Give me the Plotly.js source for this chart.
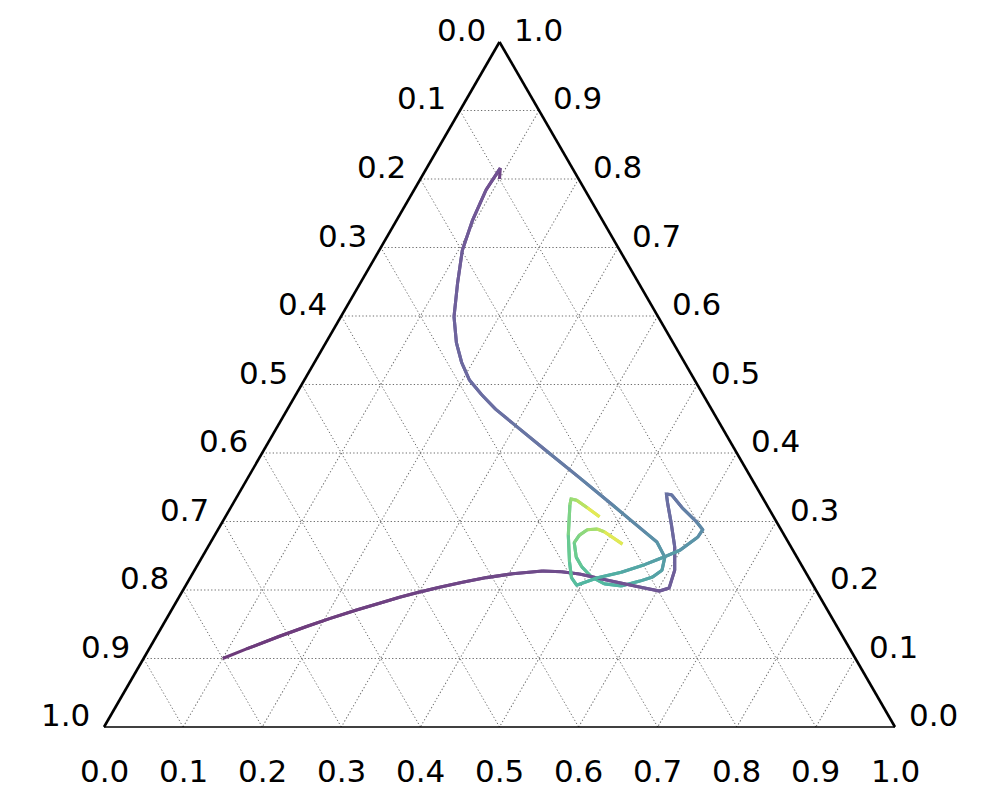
<!DOCTYPE html>
<html>
<head>
<meta charset="utf-8">
<script src="https://cdn.plot.ly/plotly-3.0.1.min.js"></script>
<style>
html,body{margin:0;padding:0;background:#fff;}
#chart{width:1000px;height:800px;}
</style>
</head>
<body>
<div id="chart"></div>
<script>
// Tick values (0..1) and the label printed at each of them
const tickValues = [0, 0.1, 0.2, 0.3, 0.4, 0.5, 0.6, 0.7, 0.8, 0.9, 1.0];
const tickLabels = ['0.0', '0.1', '0.2', '0.3', '0.4', '0.5', '0.6', '0.7', '0.8', '0.9', '1.0'];

// Trajectory 1 (starts near the bottom-left) : a = top, b = bottom-left, c = bottom-right
const traj1A = [0.1000, 0.1140, 0.1324, 0.1467, 0.1582, 0.1709, 0.1806, 0.1893, 0.1969, 0.2041, 0.2114, 0.2181, 0.2238, 0.2277, 0.2266, 0.2234, 0.2146, 0.2044, 0.1985, 0.203, 0.229, 0.263, 0.298, 0.327, 0.340, 0.339, 0.320, 0.299, 0.288, 0.277, 0.258, 0.247, 0.237, 0.226, 0.218, 0.207, 0.218, 0.241, 0.280, 0.324, 0.333, 0.331, 0.320, 0.307];
const traj1B = [0.8000, 0.7628, 0.7119, 0.6706, 0.6358, 0.5953, 0.5614, 0.5317, 0.5027, 0.4738, 0.4411, 0.4074, 0.3716, 0.3318, 0.3083, 0.2872, 0.2574, 0.2208, 0.1985, 0.184, 0.164, 0.147, 0.134, 0.124, 0.119, 0.113, 0.109, 0.101, 0.099, 0.111, 0.143, 0.171, 0.198, 0.233, 0.267, 0.299, 0.300, 0.291, 0.273, 0.249, 0.243, 0.237, 0.229, 0.220];
const traj1C = [0.1000, 0.1232, 0.1557, 0.1827, 0.2060, 0.2338, 0.2580, 0.2790, 0.3004, 0.3221, 0.3475, 0.3745, 0.4046, 0.4405, 0.4651, 0.4894, 0.5280, 0.5748, 0.6030, 0.613, 0.607, 0.590, 0.568, 0.549, 0.541, 0.548, 0.571, 0.600, 0.613, 0.612, 0.599, 0.582, 0.565, 0.541, 0.515, 0.494, 0.482, 0.468, 0.447, 0.427, 0.424, 0.432, 0.451, 0.473];
const traj1T = [0.00, 0.005, 0.01, 0.015, 0.02, 0.025, 0.03, 0.035, 0.04, 0.045, 0.05, 0.055, 0.06, 0.07, 0.075, 0.08, 0.09, 0.10, 0.12, 0.13, 0.15, 0.17, 0.19, 0.21, 0.22, 0.23, 0.27, 0.32, 0.35, 0.37, 0.41, 0.44, 0.47, 0.51, 0.55, 0.60, 0.63, 0.66, 0.71, 0.77, 0.80, 0.83, 0.90, 1.00];

// Trajectory 2 (starts near the top)
const traj2A = [0.800, 0.816, 0.784, 0.740, 0.696, 0.648, 0.599, 0.561, 0.533, 0.507, 0.485, 0.464, 0.444, 0.403, 0.364, 0.324, 0.283, 0.270, 0.248, 0.229, 0.219, 0.213, 0.206, 0.209, 0.219, 0.234, 0.248, 0.269, 0.280, 0.288, 0.289, 0.285, 0.267];
const traj2B = [0.100, 0.091, 0.125, 0.164, 0.199, 0.229, 0.258, 0.274, 0.282, 0.285, 0.280, 0.273, 0.262, 0.239, 0.217, 0.195, 0.173, 0.166, 0.167, 0.180, 0.197, 0.216, 0.243, 0.263, 0.274, 0.279, 0.279, 0.271, 0.259, 0.245, 0.232, 0.225, 0.211];
const traj2C = [0.100, 0.093, 0.091, 0.096, 0.105, 0.123, 0.143, 0.165, 0.186, 0.209, 0.235, 0.263, 0.295, 0.358, 0.419, 0.481, 0.544, 0.564, 0.585, 0.591, 0.584, 0.571, 0.551, 0.528, 0.507, 0.487, 0.473, 0.460, 0.461, 0.467, 0.479, 0.490, 0.522];
const traj2T = [0.00, 0.08, 0.10, 0.12, 0.13, 0.14, 0.15, 0.17, 0.18, 0.19, 0.20, 0.21, 0.22, 0.25, 0.28, 0.32, 0.36, 0.38, 0.42, 0.45, 0.48, 0.50, 0.54, 0.58, 0.61, 0.65, 0.68, 0.72, 0.76, 0.80, 0.85, 0.89, 1.00];

// Viridis colormap stops
const viridisStops = [
  [68, 1, 84], [72, 36, 117], [65, 68, 135], [53, 95, 141], [42, 120, 142],
  [33, 145, 140], [34, 168, 132], [68, 191, 112], [122, 209, 81], [189, 223, 38], [253, 231, 37]
];
const lineAlpha = 0.78;

function viridis(t) {
  t = Math.max(0, Math.min(1, t));
  const p = t * (viridisStops.length - 1);
  const i = Math.min(Math.floor(p), viridisStops.length - 2);
  const f = p - i;
  const c0 = viridisStops[i], c1 = viridisStops[i + 1];
  const rgb = [0, 1, 2].map(k => c0[k] + (c1[k] - c0[k]) * f);
  const out = rgb.map(v => Math.round(v * lineAlpha + 255 * (1 - lineAlpha)));
  return 'rgb(' + out.join(',') + ')';
}

// One short trace per segment so that the colour can follow the trajectory;
// each trace also carries the next point so consecutive segments join without gaps.
function segmentTraces(A, B, C, T) {
  const traces = [];
  for (let i = 0; i < A.length - 1; i++) {
    const end = Math.min(i + 3, A.length);
    traces.push({
      type: 'scatterternary',
      mode: 'lines',
      a: A.slice(i, end),
      b: B.slice(i, end),
      c: C.slice(i, end),
      line: {color: viridis((T[i] + T[i + 1]) / 2), width: 3.1},
      hoverinfo: 'skip',
      showlegend: false
    });
  }
  return traces;
}

const data = [].concat(
  segmentTraces(traj2A, traj2B, traj2C, traj2T),
  segmentTraces(traj1A, traj1B, traj1C, traj1T)
);

// Tick labels: placed next to each tick's edge point (ternary fills the plot area exactly)
const labelFont = {family: 'DejaVu Sans, sans-serif', size: 31, color: '#000'};
const annotations = [];
tickValues.forEach((t, i) => {
  // left edge: bottom-left component (0 at top, 1 at bottom-left)
  annotations.push({xref: 'paper', yref: 'paper', x: 0.5 - t / 2, y: 1 - t,
    text: tickLabels[i], showarrow: false, xanchor: 'right', yanchor: 'middle',
    xshift: -12, yshift: 12, font: labelFont});
  // right edge: top component (1 at top, 0 at bottom-right)
  annotations.push({xref: 'paper', yref: 'paper', x: 0.5 + (1 - t) / 2, y: t,
    text: tickLabels[i], showarrow: false, xanchor: 'left', yanchor: 'middle',
    xshift: 12, yshift: 12, font: labelFont});
  // bottom edge: bottom-right component (0 at left, 1 at right)
  annotations.push({xref: 'paper', yref: 'paper', x: t, y: 0,
    text: tickLabels[i], showarrow: false, xanchor: 'center', yanchor: 'middle',
    xshift: 0, yshift: -44, font: labelFont});
});

function axisStyle(lineWidth) {
  return {
    min: 0,
    tickmode: 'array',
    tickvals: tickValues,
    ticks: '',
    showticklabels: false,
    showline: true,
    linecolor: '#000',
    linewidth: lineWidth,
    showgrid: true,
    gridcolor: '#6e6e6e',
    gridwidth: 1,
    griddash: '1.3px,2.2px',
    title: {text: ''}
  };
}

const layout = {
  width: 1000,
  height: 800,
  margin: {l: 104, r: 105, t: 42, b: 73, pad: 0},
  paper_bgcolor: '#fff',
  plot_bgcolor: '#fff',
  showlegend: false,
  font: {family: 'DejaVu Sans, sans-serif', size: 22, color: '#000'},
  annotations: annotations,
  ternary: {
    sum: 1,
    domain: {x: [0, 1], y: [0, 1]},
    bgcolor: '#fff',
    aaxis: axisStyle(2.6),
    baxis: axisStyle(1.5),
    caxis: axisStyle(2.6)
  }
};

Plotly.newPlot('chart', data, layout, {displayModeBar: false, staticPlot: true});
</script>
</body>
</html>
